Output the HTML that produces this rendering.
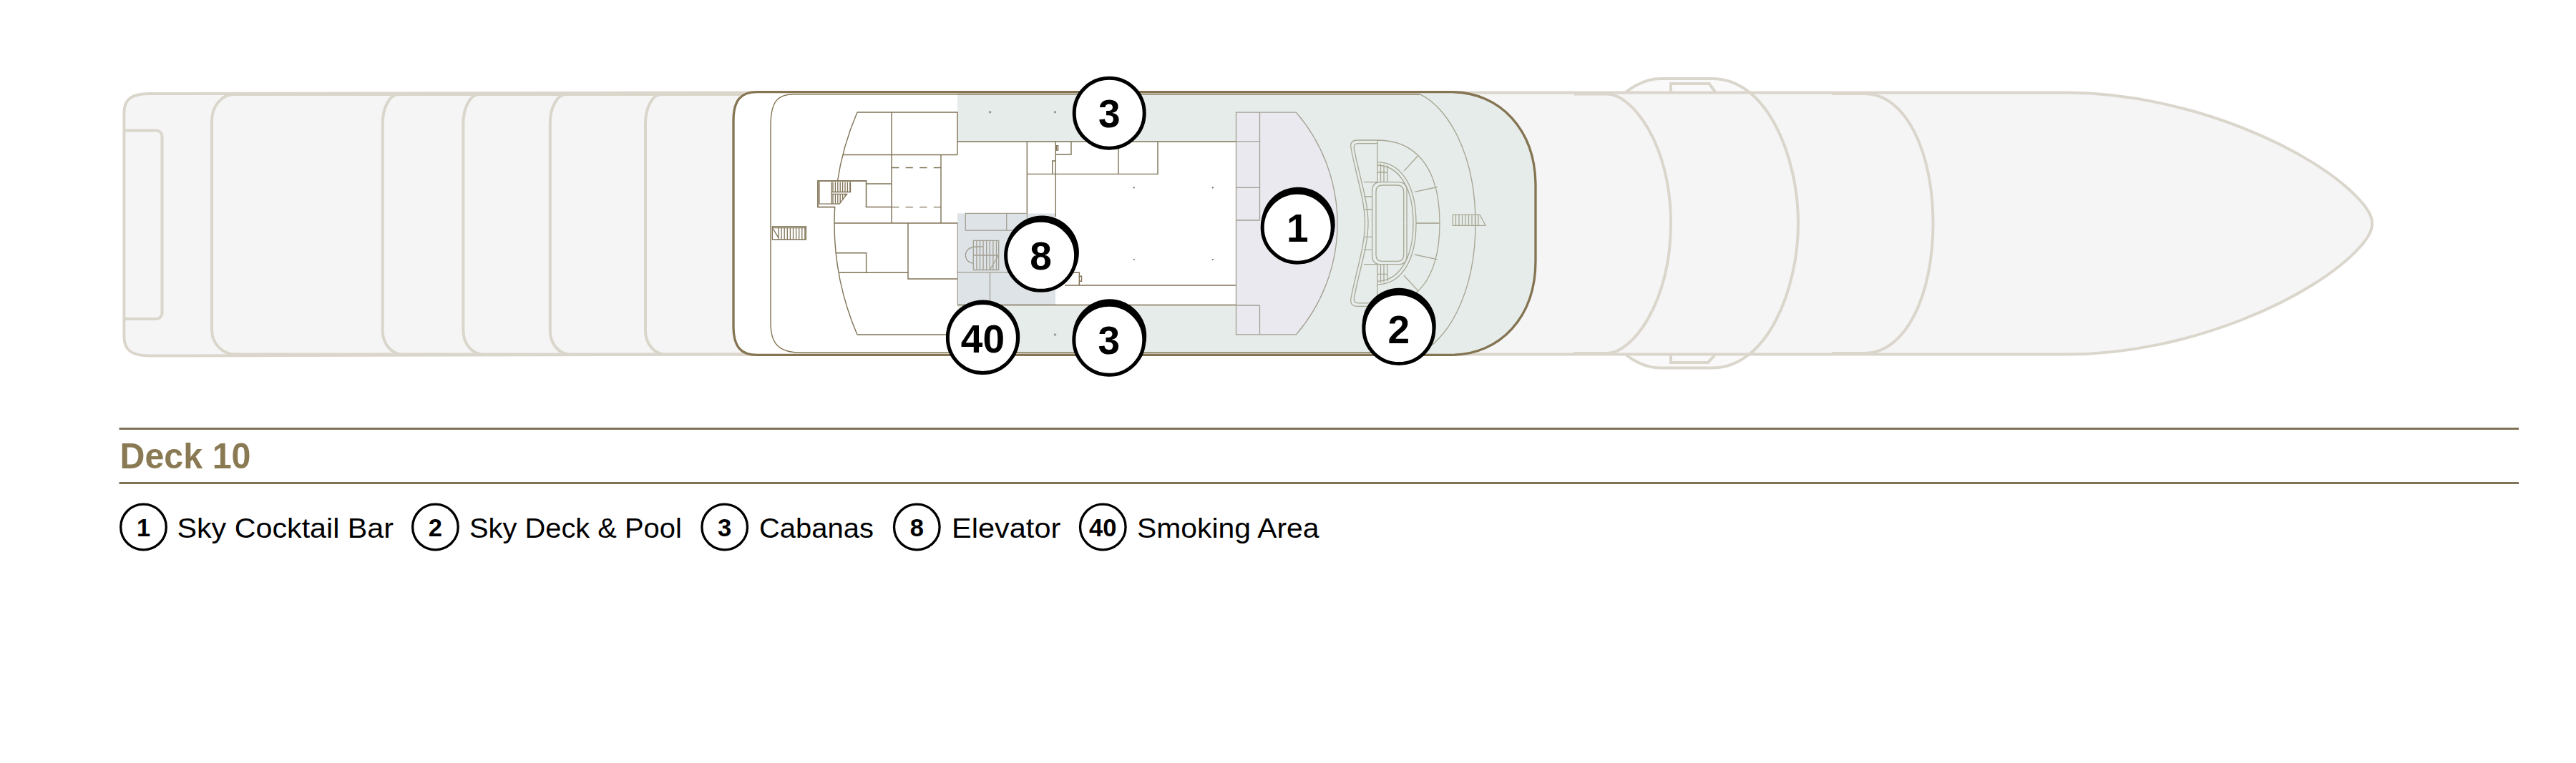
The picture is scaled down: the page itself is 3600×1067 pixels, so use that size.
<!DOCTYPE html>
<html><head><meta charset="utf-8"><title>Deck 10</title>
<style>
html,body{margin:0;padding:0;background:#fff;}
body{width:3600px;height:1067px;overflow:hidden;}
svg{display:block;position:absolute;left:0;top:0;}
</style></head>
<body>
<svg width="3600" height="1067" viewBox="0 0 3600 1067">
<path d="M 2272 129 C 2290 115 2305 110 2321 110 H 2393 C 2470 110 2513 220 2513 312.25 C 2513 404 2470 514.5 2393 514.5 H 2321 C 2305 514.5 2290 510 2272 496 Z" fill="#f9f9f9"/>
<path d="M 209 131 L 1025 129.5 H 2890 C 3060 130.5 3235 210 3298 280 Q 3316 300 3315 312.75 Q 3316 325.5 3298 345.5 C 3235 415.5 3060 495.5 2890 495.5 H 1025 L 209 497.5 C 185 497.5 173.4 490.5 173.4 470.5 V 157.5 C 173.4 138 185 131 209 131 Z" fill="#f5f5f5" stroke="#dbd6cc" stroke-width="4"/>
<path d="M 173 182.5 H 218.5 A 8 8 0 0 1 226.5 190.5 V 438 A 8 8 0 0 1 218.5 446 H 173" fill="none" stroke="#dbd6cc" stroke-width="4"/>
<path d="M 560 132 H 327 A 31 37 0 0 0 296 169 V 461.5 A 33 34 0 0 0 329 495.5 H 560" fill="none" stroke="#dbd6cc" stroke-width="4"/>
<path d="M 672.4 132 H 556.7 A 22 41 0 0 0 534.7 173 V 462.5 A 28 33 0 0 0 562.7 495.5 H 672.4" fill="none" stroke="#dbd6cc" stroke-width="4"/>
<path d="M 793.8 132 H 669.4 A 22 41 0 0 0 647.4 173 V 462.5 A 28 33 0 0 0 675.4 495.5 H 793.8" fill="none" stroke="#dbd6cc" stroke-width="4"/>
<path d="M 927 132 H 790.8 A 22 41 0 0 0 768.8 173 V 462.5 A 28 33 0 0 0 796.8 495.5 H 927" fill="none" stroke="#dbd6cc" stroke-width="4"/>
<path d="M 1055 132 H 924 A 22 41 0 0 0 902 173 V 462.5 A 28 33 0 0 0 930 495.5 H 1055" fill="none" stroke="#dbd6cc" stroke-width="4"/>
<path d="M 2200 131.5 H 2246 C 2280 131.5 2335 200 2335 312.5 C 2335 425 2280 494 2246 494 H 2200" fill="none" stroke="#dbd6cc" stroke-width="4"/>
<path d="M 2272 129 C 2290 115 2305 110 2321 110 H 2393 C 2470 110 2513 220 2513 312.25 C 2513 404 2470 514.5 2393 514.5 H 2321 C 2305 514.5 2290 510 2272 496" fill="none" stroke="#dbd6cc" stroke-width="4"/>
<path d="M 2335 129 V 117 H 2388.7 L 2397.4 129" fill="none" stroke="#dbd6cc" stroke-width="4"/>
<path d="M 2335 496 V 507 H 2387 L 2397 496" fill="none" stroke="#dbd6cc" stroke-width="4"/>
<path d="M 2560 131 H 2605 C 2665 131 2701.5 215 2701.5 312.5 C 2701.5 410 2665 494 2605 494 H 2560" fill="none" stroke="#dbd6cc" stroke-width="4"/>
<defs><clipPath id="deckclip"><path d="M 1058 128.7 H 2028 C 2097 128.7 2146 182 2146 260 V 365 C 2146 443 2097 496.3 2028 496.3 H 1058 C 1036 496.3 1025 485.8 1025 455.8 V 169.2 C 1025 139.2 1036 128.7 1058 128.7 Z"/></clipPath></defs>
<path d="M 1058 128.7 H 2028 C 2097 128.7 2146 182 2146 260 V 365 C 2146 443 2097 496.3 2028 496.3 H 1058 C 1036 496.3 1025 485.8 1025 455.8 V 169.2 C 1025 139.2 1036 128.7 1058 128.7 Z" fill="#ffffff"/>
<g clip-path="url(#deckclip)">
<rect x="1338" y="120" width="900" height="390" fill="#e5ecea"/>
<rect x="1338" y="198" width="389.5" height="228.5" fill="#ffffff"/>
<rect x="1338" y="298.5" width="137" height="127.5" fill="#dde3e6"/>
<path d="M 1727.5 157.2 H 1811.4 A 238 238 0 0 1 1811.4 467.8 H 1727.5 Z" fill="#eae9f0"/>
</g>
<path d="M 1984.4 131.8 H 1110 C 1088 131.8 1077 140 1077 176 V 452 C 1077 482 1090 493.2 1119 493.2 H 1984.4" fill="none" stroke="#847451" stroke-width="1.4"/>
<path d="M 1198 157 A 394 394 0 0 0 1198 468 M 1198 157 H 1338 V 216.5 M 1178 216.5 H 1338 M 1166 312 H 1338.3 M 1173 381.3 H 1269 M 1269 312 V 390 H 1338 M 1198 468 H 1338 M 1246 157 V 312 M 1315 216.5 V 312 M 1166.5 289.5 H 1143 V 253 H 1210.5 V 289.5 H 1246 M 1210.5 257 H 1246 M 1169 353.7 H 1210.6 V 381.3 M 1338 198 H 1727.5 M 1435.3 198 V 298.5 M 1475.2 198 V 303 M 1475 216 H 1497 V 198 M 1470.7 243.4 V 225 H 1475 M 1435 243.4 H 1618 V 198 M 1563 198 V 243.4 M 1488 399 H 1727.5 M 1495 381.2 H 1508.3 V 399 M 1508.3 386.3 H 1511.5 V 393.3 H 1508.3 M 1476.5 203.6 H 1478.6 V 210 H 1476.5 Z M 1338 426.5 H 1727.5" fill="none" stroke="#7f7255" stroke-width="1.4"/>
<path d="M 1246 234.5 H 1315 M 1246 289.6 H 1315" fill="none" stroke="#7f7255" stroke-width="1.4" stroke-dasharray="10.3 9.3"/>
<rect x="1143.7" y="253.7" width="66.1" height="35.1" fill="#fff"/>
<path d="M 1166.5 289.5 H 1143 V 253 H 1210.5 V 289.5" fill="none" stroke="#7f7255" stroke-width="1.4"/>
<path d="M 1145 254.4 V 285.1 H 1173.2 M 1162.2 254.4 V 285.1 M 1164.0 254.4 V 268.5 M 1167.4 254.4 V 268.5 M 1170.8 254.4 V 268.5 M 1174.2 254.4 V 268.5 M 1177.6 254.4 V 268.5 M 1181.0 254.4 V 268.5 M 1184.4 254.4 V 268.5 M 1187.8 254.4 V 268.5 M 1162.2 268.5 H 1188.5 V 254.4 M 1162.2 271.4 H 1183.5 L 1173.2 285.1 M 1164.0 271.4 V 285.1 M 1167.4 271.4 V 285.1 M 1170.8 271.4 V 285.1 M 1174.2 271.4 V 283.8 M 1177.6 271.4 V 279.2 M 1181.0 271.4 V 274.7" fill="none" stroke="#7f7255" stroke-width="1.3"/>
<path d="M 1079.4 316.6 H 1126.4 V 335 H 1079.4 Z M 1079.4 318.6 H 1126.4 M 1080.3 319.8 L 1088.6 333.6 M 1088.0 318.6 V 335 M 1092.1 318.6 V 335 M 1096.2 318.6 V 335 M 1100.3 318.6 V 335 M 1104.4 318.6 V 335 M 1108.5 318.6 V 335 M 1112.6 318.6 V 335 M 1116.7 318.6 V 335 M 1120.8 318.6 V 335 M 1124.9 318.6 V 335" fill="none" stroke="#7f7255" stroke-width="1.3"/>
<path d="M 1338.3 312 V 426.5 M 1360.3 345 H 1374 M 1349.3 298.3 H 1435.4 V 322.1 H 1349.3 Z M 1406.7 298.3 V 322.1 M 1360.3 336.4 H 1395.7 V 377.5 H 1360.3 Z M 1360.3 357 H 1395.7 M 1364.9 336.4 V 377.5 M 1369.5 336.4 V 377.5 M 1374.1 336.4 V 377.5 M 1378.7 336.4 V 377.5 M 1383.3 336.4 V 377.5 M 1387.9 336.4 V 377.5 M 1392.5 336.4 V 377.5 M 1360.3 346 A 11 11 0 0 0 1360.3 368 M 1383.2 377.5 L 1395.7 357 M 1337 380.8 H 1410 M 1383.5 380.8 V 424.8" fill="none" stroke="#a39f92" stroke-width="1.3"/>
<path d="M 1727.5 157.2 H 1811.4 A 238 238 0 0 1 1811.4 467.8 H 1727.5 Z M 1760.5 157.2 V 308 M 1760.5 427 V 467.8 M 1727.5 197.8 H 1760.5 M 1727.5 262.3 H 1760.5 M 1727.5 308 H 1760.5 M 1727.5 427 H 1760.5" fill="none" stroke="#a39f92" stroke-width="1.3"/>
<path d="M 1984.4 131.8 C 2020 148 2062 210 2062 312.5 C 2062 415 2020 477 1984.4 493.2" fill="none" stroke="#a9a794" stroke-width="1.4"/>
<path d="M 1925 196 H 1897 Q 1886 196 1888 207 C 1895 245 1907.5 280 1907.5 312.2 M 1924.3 200.6 H 1897.5 Q 1891 201 1892.5 208.5 C 1899.5 246 1912 281 1912 312.2 M 1925 196 V 254.7 M 1925 196 C 1975 196 2012 230 2012 312.2 M 1925 226.6 C 1955 227 1979 255 1979 312.2 M 1925 231 C 1952 231.5 1975 258 1975 312.2 M 1961.8 239.4 L 1982.2 217.3 M 1977 268.4 L 2008.6 261.5 M 1979 312.2 H 2012 M 1929.5 229 V 254.7 M 1934 230 V 254.7 M 1938.8 231.5 V 254.7 M 1925 241 H 1938.8 M 1917.6 312.2 V 267 Q 1917.6 254.7 1930 254.7 H 1954 Q 1966 254.7 1966 267 V 312.2 M 1923 312.2 V 268 Q 1923 259 1932 259 H 1952.5 Q 1961.7 259 1961.7 268 V 312.2 M 1906 254.7 H 1925 M 1906 275 H 1917.6 M 1907.5 293 H 1917.6" fill="none" stroke="#a9a794" stroke-width="1.3"/>
<path d="M 1925 196 H 1897 Q 1886 196 1888 207 C 1895 245 1907.5 280 1907.5 312.2 M 1924.3 200.6 H 1897.5 Q 1891 201 1892.5 208.5 C 1899.5 246 1912 281 1912 312.2 M 1925 196 V 254.7 M 1925 196 C 1975 196 2012 230 2012 312.2 M 1925 226.6 C 1955 227 1979 255 1979 312.2 M 1925 231 C 1952 231.5 1975 258 1975 312.2 M 1961.8 239.4 L 1982.2 217.3 M 1977 268.4 L 2008.6 261.5 M 1979 312.2 H 2012 M 1929.5 229 V 254.7 M 1934 230 V 254.7 M 1938.8 231.5 V 254.7 M 1925 241 H 1938.8 M 1917.6 312.2 V 267 Q 1917.6 254.7 1930 254.7 H 1954 Q 1966 254.7 1966 267 V 312.2 M 1923 312.2 V 268 Q 1923 259 1932 259 H 1952.5 Q 1961.7 259 1961.7 268 V 312.2 M 1906 254.7 H 1925 M 1906 275 H 1917.6 M 1907.5 293 H 1917.6" fill="none" stroke="#a9a794" stroke-width="1.3" transform="translate(0 624.4) scale(1 -1)"/>
<path d="M 2030.3 300.3 H 2068 L 2076.1 315.3 H 2030.3 Z M 2034.5 300.3 V 315.3 M 2039.0 300.3 V 315.3 M 2043.5 300.3 V 315.3 M 2048.0 300.3 V 315.3 M 2052.5 300.3 V 315.3 M 2057.0 300.3 V 315.3 M 2061.5 300.3 V 315.3 M 2066.0 300.3 V 315.3" fill="none" stroke="#a9a794" stroke-width="1.3"/>
<circle cx="1383.6" cy="156.7" r="1.8" fill="#9c9c92"/>
<circle cx="1474.5" cy="156.7" r="1.8" fill="#9c9c92"/>
<circle cx="1474.5" cy="468" r="1.8" fill="#9c9c92"/>
<circle cx="1584.7" cy="262.4" r="1.1" fill="#6b6455"/>
<circle cx="1694.8" cy="262.4" r="1.1" fill="#6b6455"/>
<circle cx="1584.7" cy="363" r="1.1" fill="#6b6455"/>
<circle cx="1694.8" cy="363" r="1.1" fill="#6b6455"/>
<path d="M 1058 128.7 H 2028 C 2097 128.7 2146 182 2146 260 V 365 C 2146 443 2097 496.3 2028 496.3 H 1058 C 1036 496.3 1025 485.8 1025 455.8 V 169.2 C 1025 139.2 1036 128.7 1058 128.7 Z" fill="none" stroke="#847451" stroke-width="3.3"/>
<circle cx="1550.2" cy="158.2" r="49" fill="#fff" stroke="#000" stroke-width="5"/><text x="1550.2" y="178.2" text-anchor="middle" font-family="&quot;Liberation Sans&quot;, sans-serif" font-weight="bold" font-size="55" fill="#000">3</text>
<circle cx="1456.3999999999999" cy="353.1" r="51.5" fill="#000"/><circle cx="1454.6" cy="357.3" r="49" fill="#fff" stroke="#000" stroke-width="5"/><text x="1454.6" y="377.3" text-anchor="middle" font-family="&quot;Liberation Sans&quot;, sans-serif" font-weight="bold" font-size="55" fill="#000">8</text>
<circle cx="1814.2" cy="313.2" r="51.5" fill="#000"/><circle cx="1813.2" cy="318.2" r="49" fill="#fff" stroke="#000" stroke-width="5"/><text x="1813.2" y="338.2" text-anchor="middle" font-family="&quot;Liberation Sans&quot;, sans-serif" font-weight="bold" font-size="55" fill="#000">1</text>
<circle cx="1955.2" cy="454.3" r="51.5" fill="#000"/><circle cx="1954.9" cy="459.5" r="49" fill="#fff" stroke="#000" stroke-width="5"/><text x="1954.9" y="479.5" text-anchor="middle" font-family="&quot;Liberation Sans&quot;, sans-serif" font-weight="bold" font-size="55" fill="#000">2</text>
<circle cx="1373.7" cy="471.0" r="51.5" fill="#000"/><circle cx="1373.4" cy="472.5" r="49" fill="#fff" stroke="#000" stroke-width="5"/><text x="1373.4" y="492.5" text-anchor="middle" font-family="&quot;Liberation Sans&quot;, sans-serif" font-weight="bold" font-size="55" fill="#000">40</text>
<circle cx="1550.7" cy="469.8" r="51.5" fill="#000"/><circle cx="1549.8" cy="475.3" r="49" fill="#fff" stroke="#000" stroke-width="5"/><text x="1549.8" y="495.3" text-anchor="middle" font-family="&quot;Liberation Sans&quot;, sans-serif" font-weight="bold" font-size="55" fill="#000">3</text>
<rect x="166.5" y="598" width="3353.5" height="3" fill="#7f7257"/>
<rect x="166.5" y="674" width="3353.5" height="3" fill="#7f7257"/>
<text x="167.5" y="654.6" textLength="183" lengthAdjust="spacingAndGlyphs" font-family="&quot;Liberation Sans&quot;, sans-serif" font-weight="bold" font-size="50" fill="#8a7a54">Deck 10</text>
<circle cx="200.5" cy="737" r="31.8" fill="#fff" stroke="#000" stroke-width="3.3"/>
<text x="200.5" y="750" text-anchor="middle" font-family="&quot;Liberation Sans&quot;, sans-serif" font-weight="bold" font-size="34.5" fill="#000">1</text>
<text x="247.5" y="751.7" textLength="302.5" lengthAdjust="spacingAndGlyphs" font-family="&quot;Liberation Sans&quot;, sans-serif" font-size="39" fill="#000">Sky Cocktail Bar</text>
<circle cx="608.4" cy="737" r="31.8" fill="#fff" stroke="#000" stroke-width="3.3"/>
<text x="608.4" y="750" text-anchor="middle" font-family="&quot;Liberation Sans&quot;, sans-serif" font-weight="bold" font-size="34.5" fill="#000">2</text>
<text x="655.9" y="751.7" textLength="296.9" lengthAdjust="spacingAndGlyphs" font-family="&quot;Liberation Sans&quot;, sans-serif" font-size="39" fill="#000">Sky Deck &amp; Pool</text>
<circle cx="1012.7" cy="737" r="31.8" fill="#fff" stroke="#000" stroke-width="3.3"/>
<text x="1012.7" y="750" text-anchor="middle" font-family="&quot;Liberation Sans&quot;, sans-serif" font-weight="bold" font-size="34.5" fill="#000">3</text>
<text x="1061" y="751.7" textLength="160.0" lengthAdjust="spacingAndGlyphs" font-family="&quot;Liberation Sans&quot;, sans-serif" font-size="39" fill="#000">Cabanas</text>
<circle cx="1281.3" cy="737" r="31.8" fill="#fff" stroke="#000" stroke-width="3.3"/>
<text x="1281.3" y="750" text-anchor="middle" font-family="&quot;Liberation Sans&quot;, sans-serif" font-weight="bold" font-size="34.5" fill="#000">8</text>
<text x="1330" y="751.7" textLength="152.3" lengthAdjust="spacingAndGlyphs" font-family="&quot;Liberation Sans&quot;, sans-serif" font-size="39" fill="#000">Elevator</text>
<circle cx="1541.3" cy="737" r="31.8" fill="#fff" stroke="#000" stroke-width="3.3"/>
<text x="1541.3" y="750" text-anchor="middle" font-family="&quot;Liberation Sans&quot;, sans-serif" font-weight="bold" font-size="34.5" fill="#000">40</text>
<text x="1589" y="751.7" textLength="254.5" lengthAdjust="spacingAndGlyphs" font-family="&quot;Liberation Sans&quot;, sans-serif" font-size="39" fill="#000">Smoking Area</text>
</svg>
</body></html>
